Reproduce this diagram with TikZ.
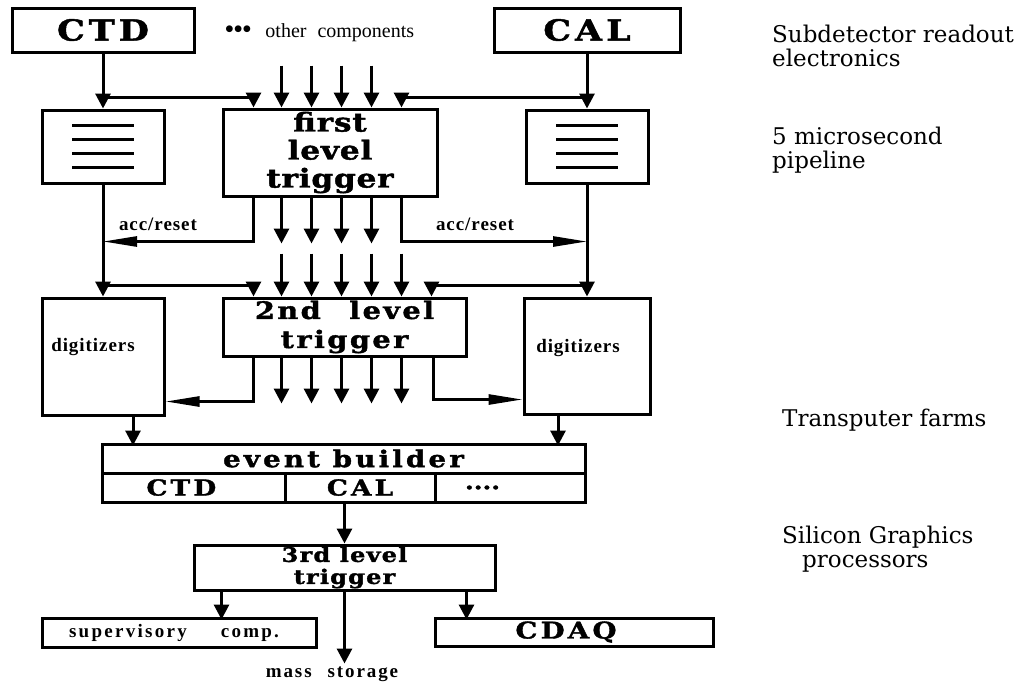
\documentclass[tikz,border=0pt]{standalone}
\usepackage{fontspec}
\setmainfont{Liberation Serif}
\newfontfamily\boxfont{DejaVu Serif}[FakeStretch=1.2, FakeBold=1.6]
\newfontfamily\sidefont{DejaVu Serif}
\usepackage{tikz}
\usetikzlibrary{arrows.meta,calc}
\newcommand{\bxf}[3]{\fontsize{#1}{#2}\boxfont\bfseries\addfontfeatures{LetterSpace=#3}}
\newcommand{\tagf}[1]{\fontsize{19}{21}\rmfamily\bfseries\addfontfeatures{LetterSpace=#1}}
\newcommand{\sidef}{\fontsize{23}{24}\sidefont}
\tikzset{
  box/.style={draw, line width=3pt, inner sep=0pt, fill=white, align=center},
  tag/.style={font=\tagf{5}, inner sep=0pt},
  side/.style={font=\sidef, inner sep=0pt, anchor=north west, align=left},
  arr/.style={line width=3pt, -{Triangle[length=15pt,width=15pt]}},
  farr/.style={line width=2.7pt, -{Triangle[length=34pt,width=10pt]}},
  pipe/.style={line width=2.3pt}}

\begin{document}
\begin{tikzpicture}[x=1pt, y=-1pt]
  \path[use as bounding box, fill=white] (0,0) rectangle (1027,681);
  % subdetector readout
  \node[box, minimum width=182, minimum height=44, font=\bxf{29}{29}{14}] (ctd) at (103,30) {CTD};
  \node[box, minimum width=186, minimum height=44, font=\bxf{29}{29}{14}] (cal) at (587,30) {CAL};
  \node[inner sep=0pt, anchor=base west, font=\fontsize{20}{22}\rmfamily] (other) at (225,37) {{\fontsize{25}{25}\selectfont\bfseries •••}\hspace{14pt}other\hspace{11pt}components};
  % pipelines
  \node[box, minimum width=122, minimum height=73] (pipeL) at (103,146.5) {};
  \node[box, minimum width=122, minimum height=73] (pipeR) at (587,146.5) {};
  \foreach \p in {pipeL,pipeR}
    \foreach \dy in {-21,-7,7,21}
      \draw[pipe] ($(\p)+(-31,\dy)$) -- ($(\p)+(31,\dy)$);
  % triggers
  \node[box, minimum width=214, minimum height=87, font=\bxf{26}{28}{3}] (trig1) at (330,152.5) {first\\level\\trigger};
  \node[box, minimum width=243, minimum height=58, font=\bxf{24}{29}{10}] (trig2) at (344.5,327) {2nd\hspace{16pt} level\\trigger};
  \node[tag, anchor=base] (accL) at (158,230) {acc/reset};
  \node[tag, anchor=base] (accR) at (475,230) {acc/reset};
  % digitizers
  \node[box, minimum width=122, minimum height=117] (digL) at (103,356.5) {};
  \node[box, minimum width=126, minimum height=116] (digR) at (587,356) {};
  \node[tag, anchor=base] (digLtxt) at (93,351) {digitizers};
  \node[tag, anchor=base] (digRtxt) at (578,352) {digitizers};
  % event builder
  \node[box, minimum width=483, minimum height=29, font=\bxf{23}{23}{14}] (eb) at (343.5,458.5) {event builder};
  \node[box, minimum width=183, minimum height=29, text width=170, align=left, font=\bxf{22}{22}{14}] (ebctd) at (193.5,487.5) {\hspace*{38pt}CTD};
  \node[box, minimum width=150, minimum height=29, font=\bxf{22}{22}{14}] (ebcal) at (360,487.5) {CAL};
  \node[box, minimum width=150, minimum height=29, text width=90, align=left, font=\bxf{21}{21}{0}] (ebdots) at (510,487.5) {....};
  % third level and outputs
  \node[box, minimum width=301, minimum height=45, font=\bxf{20}{22}{6}] (trig3) at (344.5,567.5) {3rd level\\trigger};
  \node[box, minimum width=274, minimum height=29, font=\tagf{12}] (sup) at (179,632.5) {supervisory\hspace{34pt}comp.\hspace*{10pt}};
  \node[box, minimum width=278, minimum height=28, font=\bxf{23}{23}{14}] (cdaq) at (574,632) {CDAQ\hspace*{16pt}};
  \node[tag, anchor=base, font=\tagf{10}] (mass) at (332,677) {mass\hspace{16pt}storage};
  % right column
  \node[side] (subdet) at (772,25) {Subdetector readout\\electronics};
  \node[side] (micro) at (772,127) {5 microsecond\\pipeline};
  \node[side] (farms) at (782,409) {Transputer farms};
  \node[side] (sgi) at (782,526) {Silicon Graphics\\\hspace*{20pt}processors};
  % connectors
  \draw[arr] (ctd) -- (pipeL);
  \draw[arr] (cal) -- (pipeR);
  \draw[arr] (ctd.south) ++(0,44) -| ($(trig1.north west)+(32,0)$);
  \draw[arr] (cal.south) ++(0,44) -| ($(trig1.north west)+(180,0)$);
  \foreach \x [count=\i] in {60,90,120,150} {
    \coordinate (oc\i) at ($(trig1.north west)+(\x,-42)$);
    \draw[arr] (oc\i) -- (oc\i |- trig1.north);
    \draw[arr] ($(trig1.south west)+(\x,0)$) -- ++(0,46);}
  \draw[farr] ($(trig1.south west)+(32,0)$) |- ($(pipeL.south)+(0,57)$);
  \draw[farr] ($(trig1.south west)+(180,0)$) |- ($(pipeR.south)+(0,57)$);
  \draw[arr] (pipeL) -- (digL);
  \draw[arr] (pipeR) -- (digR);
  \draw[arr] (pipeL.south) ++(0,101) -| ($(trig2.north west)+(32,0)$);
  \draw[arr] (pipeR.south) ++(0,101) -| ($(trig2.north west)+(210,0)$);
  \foreach \x in {60,90,...,180} {
    \draw[arr] ($(trig2.north west)+(\x,-43)$) -- ++(0,43);
    \draw[arr] ($(trig2.south west)+(\x,0)$) -- ++(0,46);}
  \draw[farr] ($(trig2.south west)+(32,0)$) |- ($(digL.south east)+(0,-15)$);
  \draw[farr] ($(trig2.south west)+(212,0)$) |- ($(digR.south west)+(0,-16)$);
  \draw[arr] ($(digL.south)+(30,0)$) -- ++(0,29);
  \draw[arr] ($(digR.south)+(-29,0)$) -- ++(0,30);
  \draw[arr] (ebcal.south -| trig3.north) -- (trig3.north);
  \draw[arr] ($(trig3.south west)+(29,0)$) -- ++(0,28);
  \draw[arr] ($(trig3.south east)+(-30,0)$) -- ++(0,28);
  \draw[arr] (trig3.south) -- ++(0,72);
\end{tikzpicture}
\end{document}
